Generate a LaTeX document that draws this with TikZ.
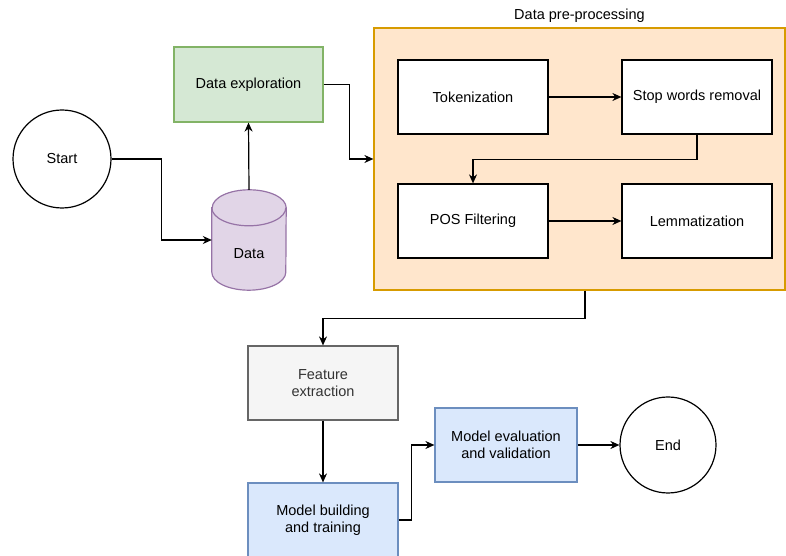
\documentclass[tikz,border=0pt]{standalone}
\usepackage{fontspec}
\setmainfont{Liberation Sans}
\usetikzlibrary{arrows.meta,positioning}
\definecolor{greenfill}{HTML}{D5E8D4}
\definecolor{greenline}{HTML}{82B366}
\definecolor{purplefill}{HTML}{E1D5E7}
\definecolor{purpleline}{HTML}{9673A6}
\definecolor{orangefill}{HTML}{FFE6CC}
\definecolor{orangeline}{HTML}{D79B00}
\definecolor{greyfill}{HTML}{F5F5F5}
\definecolor{greyline}{HTML}{666666}
\definecolor{greytext}{HTML}{333333}
\definecolor{bluefill}{HTML}{DAE8FC}
\definecolor{blueline}{HTML}{6C8EBF}
\begin{document}
\begin{tikzpicture}[
    x=1pt, y=1pt,
    font=\fontsize{14.5}{17}\selectfont,
    box/.style={rectangle, draw, line width=1.2pt, minimum width=150pt, minimum height=74pt, align=center, inner sep=0pt},
    terminal/.style={circle, draw, line width=1.2pt, minimum size=98pt, inner sep=0pt},
    db/.style={rectangle, minimum width=74pt, minimum height=100pt, inner sep=0pt},
    dbline/.style={draw=purpleline, fill=purplefill, line width=1.2pt},
    group/.style={rectangle, draw=orangeline, fill=orangefill, line width=1.2pt, minimum width=411pt, minimum height=262pt},
    arr/.style={-{Stealth[length=9pt,width=8pt]}, line width=1.2pt}
]
    \useasboundingbox (0,0) rectangle (786,556);

    % Nodes
    \node[terminal] (start) at (62,397) {Start};
    \node[db] (data) at (249,316) {};
    \draw[dbline] ([yshift=-18pt]data.north west) -- ([yshift=18pt]data.south west)
        arc (180:360:37 and 18) -- ([yshift=-18pt]data.north east)
        arc (0:180:37 and 18) -- cycle;
    \draw[dbline, fill=none] ([yshift=-18pt]data.north west) arc (180:360:37 and 18);
    \node at ([yshift=-14pt]data.center) {Data};
    \node[box, draw=greenline, fill=greenfill, minimum width=149pt, minimum height=75pt] (explore) at (248.5,471.5) {Data exploration};

    \node[group, label={[label distance=1pt]above:Data pre-processing}] (prep) at (579.5,397) {};
    \node[box, fill=white] (token) at (473,459) {Tokenization};
    \node[box, fill=white] (stop) at (697,459) {Stop words removal};
    \node[box, fill=white] (pos) at (473,335) {POS Filtering};
    \node[box, fill=white] (lemma) at (697,335) {Lemmatization};

    \node[box, draw=greyline, fill=greyfill, text=greytext] (feature) at (323,173) {Feature\\extraction};
    \node[box, draw=blueline, fill=bluefill] (build) at (323,36) {Model building\\and training};
    \node[box, draw=blueline, fill=bluefill, minimum width=142pt] (eval) at (506,111) {Model evaluation\\and validation};
    \node[terminal, minimum size=96pt] (end) at (668,111) {End};

    % Arrows
    \draw[arr] (start.east) -- ++(50,0) |- (data.west);
    \draw[arr] (data.north) -- (explore.south);
    \draw[arr] (explore.east) -- ++(26,0) |- (prep.west);
    \draw[arr] (token.east) -- (stop.west);
    \draw[arr] (stop.south) -- ++(0,-25) -| (pos.north);
    \draw[arr] (pos.east) -- (lemma.west);
    \draw[arr] ([xshift=5.5pt]prep.south) -- ++(0,-28) -| (feature.north);
    \draw[arr] (feature.south) -- (build.north);
    \draw[arr] (build.east) -- ++(13,0) |- (eval.west);
    \draw[arr] (eval.east) -- (end.west);
\end{tikzpicture}
\end{document}
